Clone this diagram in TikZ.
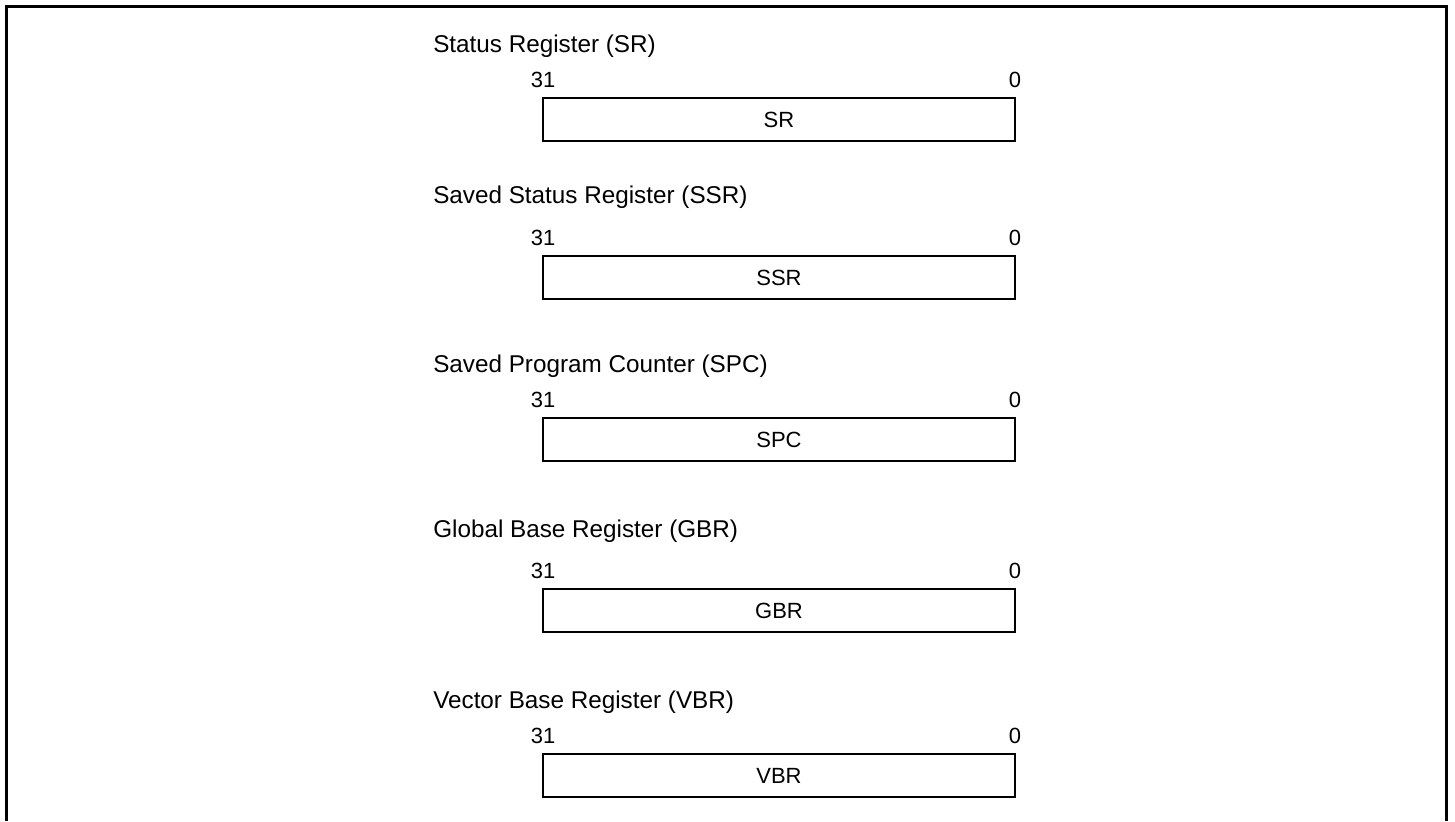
\documentclass[tikz,border=0pt]{standalone}
\usepackage{fontspec}
\setmainfont{Liberation Sans}
\begin{document}
\begin{tikzpicture}[x=0.75pt,y=-0.75pt,
  lbl/.style={inner sep=0pt, font=\fontsize{16.5pt}{19pt}\selectfont},
  ttlbl/.style={inner sep=0pt, font=\fontsize{18.2pt}{21pt}\selectfont},
  regbox/.style={draw, line width=1.1pt, inner sep=0pt, minimum width=354pt, minimum height=32.25pt, font=\fontsize{16.5pt}{19pt}\selectfont},
  frameline/.style={line width=2.4pt}]
\useasboundingbox (0,0) rectangle (1455,821);
\draw[frameline] (6.3,821) -- (6.3,6.5) -- (1446.5,6.5) -- (1446.5,821);
\foreach \nm/\ttl/\tb/\nb/\bt in {
  SR/Status Register (SR)/52/87/98,
  SSR/Saved Status Register (SSR)/203/245/256,
  SPC/Saved Program Counter (SPC)/372/407/418,
  GBR/Global Base Register (GBR)/537/578/589,
  VBR/Vector Base Register (VBR)/708/743/754}{
  \node[ttlbl, anchor=base west] (title\nm) at (433,\tb) {\ttl};
  \node[lbl, anchor=base] (hi\nm) at (543,\nb) {31};
  \node[lbl, anchor=base] (lo\nm) at (1015,\nb) {0};
  \node[regbox] (box\nm) at (779,\bt+21.5) {\nm};
}
\end{tikzpicture}
\end{document}
